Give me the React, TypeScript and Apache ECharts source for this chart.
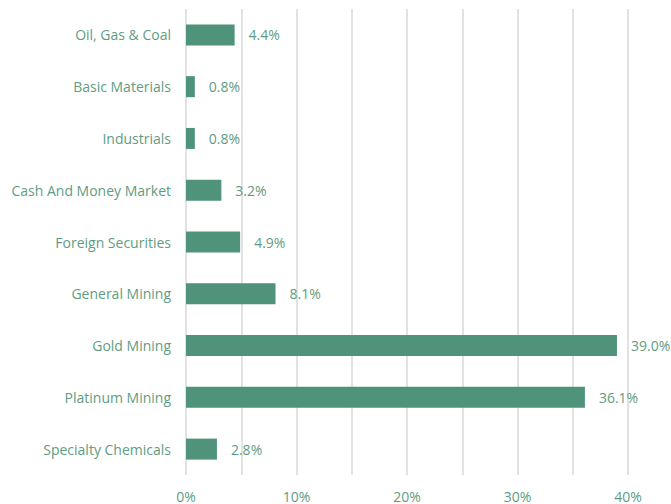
import React, { useEffect, useRef } from "react";
import * as echarts from "echarts";

const categories = [
  "Oil, Gas & Coal",
  "Basic Materials",
  "Industrials",
  "Cash And Money Market",
  "Foreign Securities",
  "General Mining",
  "Gold Mining",
  "Platinum Mining",
  "Specialty Chemicals",
];
const values = [4.4, 0.8, 0.8, 3.2, 4.9, 8.1, 39.0, 36.1, 2.8];

const textColor = "#5f9c82";
const barColor = "#4e937a";
const font = "'Open Sans', Lato, sans-serif";

export default function App() {
  const ref = useRef<HTMLDivElement>(null);
  useEffect(() => {
    if (!ref.current) return;
    const chart = echarts.init(ref.current, undefined, { renderer: "svg" });
    chart.setOption({
      animation: false,
      grid: { left: 186, right: 43, top: 9, bottom: 29, containLabel: false },
      xAxis: {
        type: "value",
        min: 0,
        max: 40,
        interval: 5,
        axisLine: { show: false },
        axisTick: { show: false },
        splitLine: { show: true, lineStyle: { color: "#e2e2e2", width: 2 } },
        axisLabel: {
          color: textColor,
          fontFamily: font,
          fontSize: 14,
          margin: 14,
          formatter: (v: number) => (v % 10 === 0 ? v + "%" : ""),
        },
      },
      yAxis: {
        type: "category",
        data: categories,
        inverse: true,
        axisLine: { show: false },
        axisTick: { show: false },
        axisLabel: { color: textColor, fontFamily: font, fontSize: 14, margin: 15 },
      },
      series: [
        {
          type: "bar",
          data: values,
          barWidth: 21,
          itemStyle: { color: barColor },
          label: {
            show: true,
            position: "right",
            distance: 14,
            color: textColor,
            fontFamily: font,
            fontSize: 14,
            formatter: (p: any) => p.value.toFixed(1) + "%",
          },
        },
      ],
    });
    return () => chart.dispose();
  }, []);
  return <div ref={ref} style={{ width: 671, height: 504, position: "absolute", left: 0, top: 0 }} />;
}
